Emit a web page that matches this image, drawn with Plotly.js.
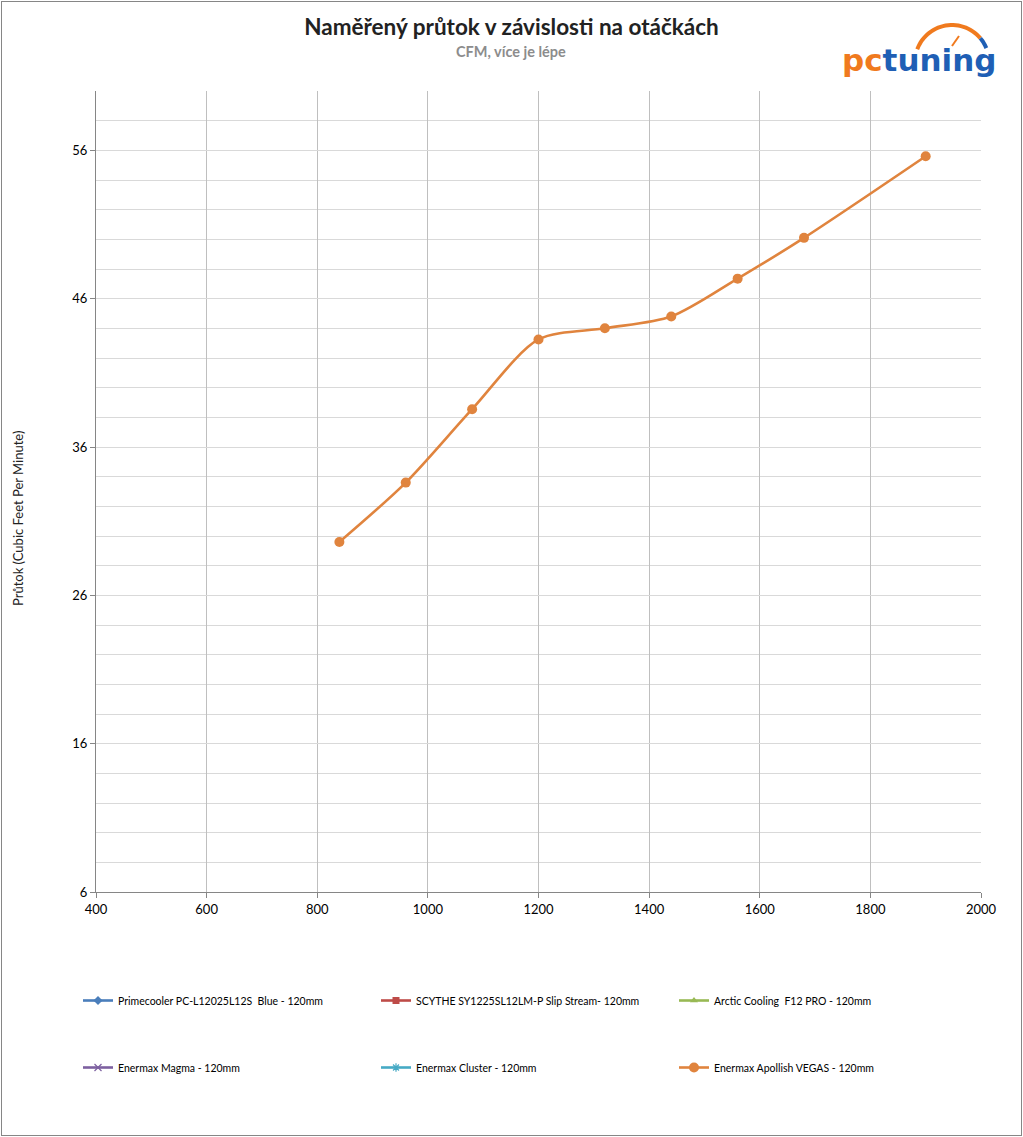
<!DOCTYPE html>
<html>
<head>
<meta charset="utf-8">
<script src="https://cdn.plot.ly/plotly-3.0.1.min.js"></script>
<style>
html,body{margin:0;padding:0;background:#fff;}
#wrap{position:relative;width:1023px;height:1137px;}
#chart{position:absolute;left:0;top:0;width:1023px;height:1137px;}
#frame{position:absolute;left:1px;top:1px;width:1019px;height:1133px;border:1px solid #868686;pointer-events:none;}
</style>
</head>
<body>
<div id="wrap"><div id="chart"></div><div id="frame"></div></div>
<script>
// ---- data ----
const rpm = [840, 960, 1080, 1200, 1320, 1440, 1560, 1680, 1900];
const vegasCFM = [29.6, 33.6, 38.55, 43.25, 44.0, 44.8, 47.35, 50.1, 55.6];
const seriesNames = [
  "Primecooler PC-L12025L12S  Blue - 120mm",
  "SCYTHE SY1225SL12LM-P Slip Stream- 120mm",
  "Arctic Cooling  F12 PRO - 120mm",
  "Enermax Magma - 120mm",
  "Enermax Cluster - 120mm",
  "Enermax Apollish VEGAS - 120mm"
];
const seriesColors = ["#4a7ebb", "#be4b48", "#98b954", "#7d60a0", "#46aac5", "#e0843e"];
const seriesSymbols = ["diamond", "square", "triangle-up", "x-thin-open", "asterisk-open", "circle"];
const xTicks = [400, 600, 800, 1000, 1200, 1400, 1600, 1800, 2000];
const yTicks = [6, 16, 26, 36, 46, 56];

const W = 1023, H = 1137;
const ML = 96, MR = 42, MT = 91, MB = 245;
const PW = W - ML - MR, PH = H - MT - MB;
const px = X => (X - ML) / PW;
const py = Y => 1 - (Y - MT) / PH;

const FONT = "Lato, 'Open Sans', sans-serif";
const legendIds = ["legend", "legend2", "legend3", "legend4", "legend5", "legend6"];
const legendX = [78, 376, 674];
const legendY = [986, 1053];

const traces = [];
for (let i = 0; i < 6; i++) {
  const isData = i === 5;
  traces.push({
    type: "scatter",
    mode: "lines+markers",
    name: seriesNames[i],
    x: isData ? rpm : [null],
    y: isData ? vegasCFM : [null],
    line: {color: seriesColors[i], width: 2.6, shape: "spline", smoothing: 0.8},
    marker: {color: seriesColors[i], size: (i === 5 ? 10 : 7), symbol: seriesSymbols[i],
             line: {color: seriesColors[i], width: (i === 3 || i === 4) ? 1.2 : 0}},
    legend: legendIds[i],
    hoverinfo: "x+y"
  });
}

// logo arc (in pixel coords -> paper)
function arcPath(cx, cy, r, a0, a1, n) {
  let d = "";
  for (let k = 0; k <= n; k++) {
    const a = (a0 + (a1 - a0) * k / n) * Math.PI / 180;
    const X = cx + r * Math.cos(a), Y = cy - r * Math.sin(a);
    d += (k === 0 ? "M" : "L") + px(X).toFixed(5) + "," + py(Y).toFixed(5);
  }
  return d;
}
const cx = 952, cy = 62, r = 37;

const layout = {
  width: W, height: H,
  paper_bgcolor: "rgba(0,0,0,0)",
  plot_bgcolor: "#fff",
  margin: {l: ML, r: MR, t: MT, b: MB, autoexpand: false},
  font: {family: FONT, size: 13, color: "#000"},
  title: {
    text: "<b>Naměřený průtok v závislosti na otáčkách</b>",
    font: {family: FONT, size: 22.5, color: "#222"},
    x: 0.5, xref: "container", xanchor: "center",
    y: 1 - 27 / H, yref: "container", yanchor: "middle"
  },
  xaxis: {
    range: [400, 2000], tickmode: "array", tickvals: xTicks,
    showgrid: true, gridcolor: "#bfbfbf", gridwidth: 1,
    showline: true, linecolor: "#868686", linewidth: 1,
    ticks: "outside", ticklen: 5, tickcolor: "#868686",
    tickfont: {family: FONT, size: 13, color: "#000"},
    zeroline: false, fixedrange: true
  },
  yaxis: {
    range: [6, 60], tickmode: "array", tickvals: yTicks,
    showgrid: true, gridcolor: "#d9d9d9", gridwidth: 1,
    minor: {dtick: 2, tick0: 6, showgrid: true, gridcolor: "#d9d9d9", gridwidth: 1},
    showline: true, linecolor: "#868686", linewidth: 1,
    ticks: "outside", ticklen: 5, tickcolor: "#868686",
    tickfont: {family: FONT, size: 13, color: "#000"},
    zeroline: false, fixedrange: true
  },
  annotations: [
    {text: "<b>CFM, více je lépe</b>", xref: "paper", yref: "paper", x: px(511), y: py(51),
     showarrow: false, font: {family: FONT, size: 14.5, color: "#8c8c8c"}, xanchor: "center", yanchor: "middle"},
    {text: "Průtok (Cubic Feet Per Minute)", xref: "paper", yref: "paper", x: px(18), y: py(519),
     textangle: -90, showarrow: false, font: {family: FONT, size: 13, color: "#222"}, xanchor: "center", yanchor: "middle"},
    {text: "<b><span style='color:#f07a1e'>pc</span><span style='color:#1f5fb5'>tuning</span></b>", xref: "paper", yref: "paper",
     x: px(919), y: py(60), showarrow: false, font: {family: "'DejaVu Sans', sans-serif", size: 31}, xanchor: "center", yanchor: "middle"}
  ],
  shapes: [
    {type: "path", xref: "paper", yref: "paper", path: arcPath(cx, cy, r, 160, 40, 30), line: {color: "#f07a1e", width: 4}},
    {type: "path", xref: "paper", yref: "paper", path: arcPath(cx, cy, r, 40, 22, 8), line: {color: "#1f5fb5", width: 4}},
    {type: "line", xref: "paper", yref: "paper", x0: px(952), y0: py(46), x1: px(959), y1: py(36), line: {color: "#f07a1e", width: 2}}
  ],
  showlegend: true
};
for (let i = 0; i < 6; i++) {
  layout[legendIds[i]] = {
    orientation: "h", xref: "container", yref: "container",
    x: legendX[i % 3] / W, y: 1 - legendY[Math.floor(i / 3)] / H,
    xanchor: "left", yanchor: "top",
    font: {family: FONT, size: 10.5, color: "#000"}, bgcolor: "rgba(0,0,0,0)", itemwidth: 30
  };
}

Plotly.newPlot("chart", traces, layout, {displayModeBar: false, staticPlot: true});
</script>
</body>
</html>
